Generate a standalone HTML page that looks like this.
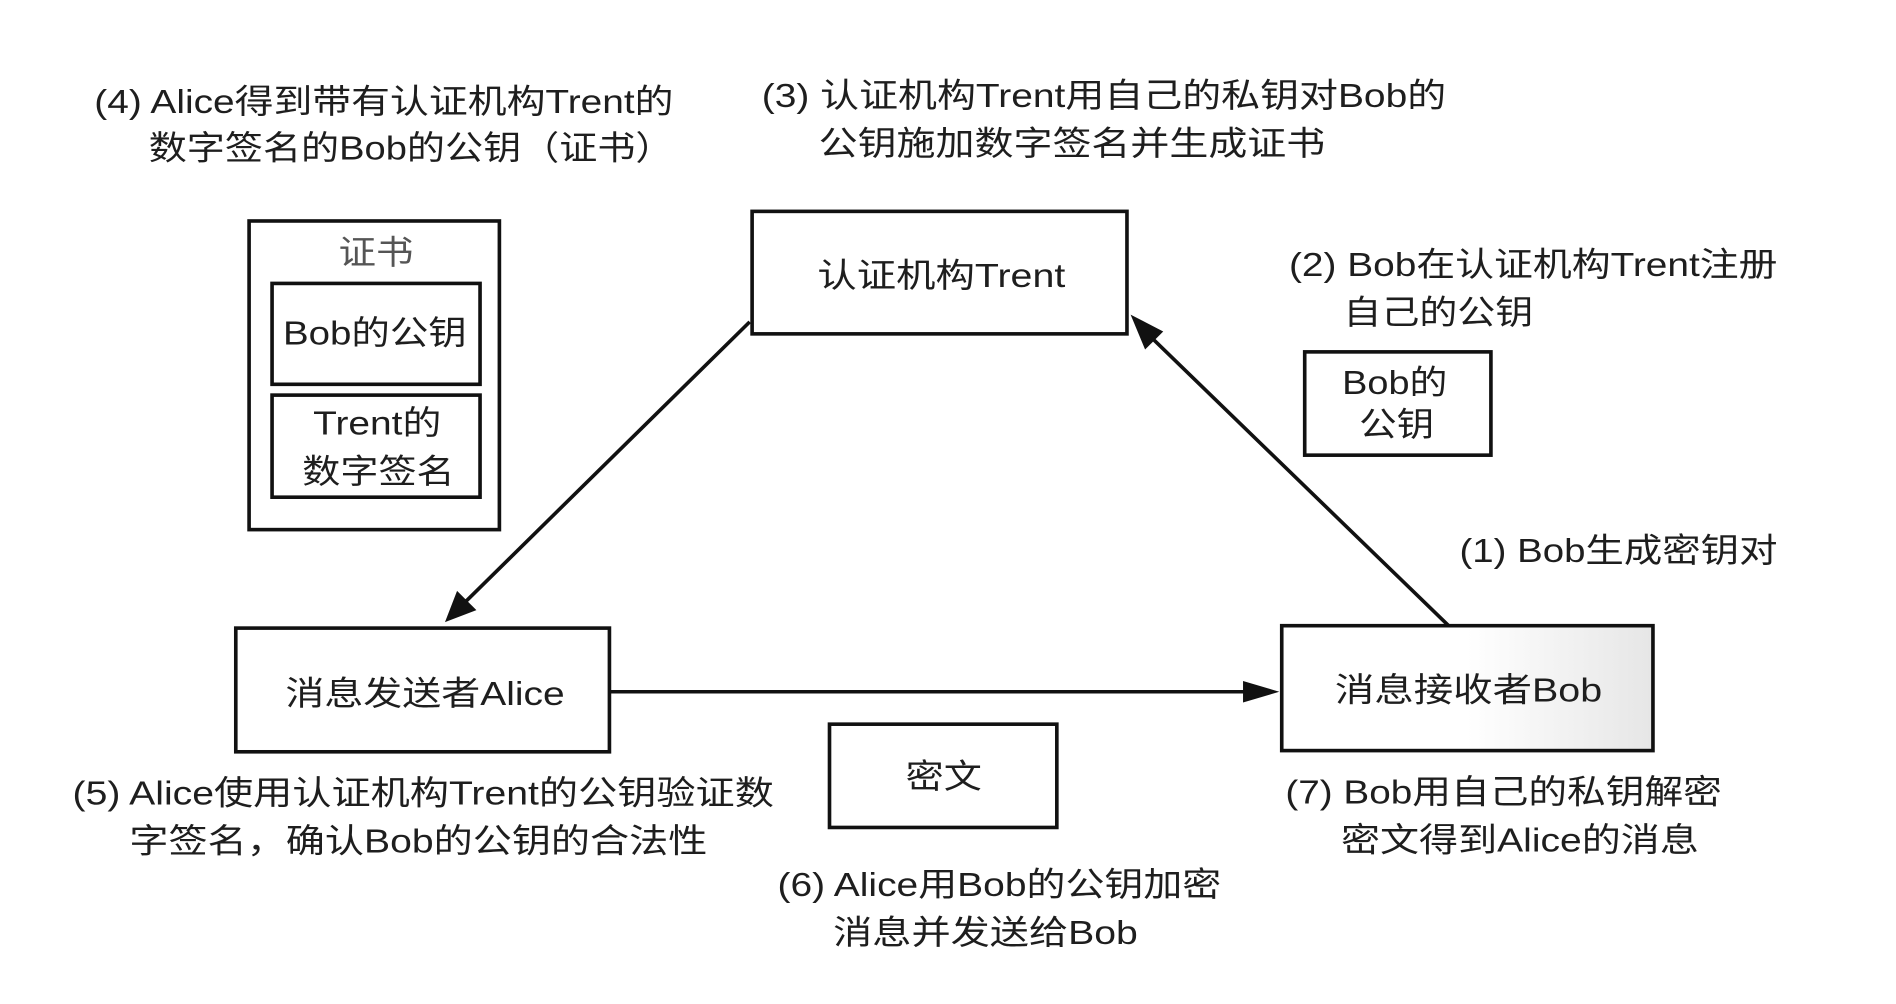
<!DOCTYPE html>
<html><head><meta charset="utf-8"><style>
html,body{margin:0;padding:0;background:#fff;width:1896px;height:1004px;overflow:hidden}
svg{display:block}
text{font-family:"Liberation Sans","Noto Sans CJK SC",sans-serif;fill:#1e1e1e;font-size:28px}
</style></head><body>
<svg width="1896" height="1004" viewBox="0 0 1568 836" preserveAspectRatio="none" xmlns="http://www.w3.org/2000/svg">
<defs>
<linearGradient id="g" x1="0" x2="1" y1="0" y2="0">
<stop offset="0.5" stop-color="#fff"/><stop offset="1" stop-color="#e6e6e6"/>
</linearGradient>
</defs>
<g fill="none" stroke="#111" stroke-width="3">
<rect x="206" y="184" width="207" height="257"/>
<rect x="225" y="236" width="172" height="84"/>
<rect x="225" y="329" width="172" height="85"/>
<rect x="622" y="176" width="310" height="102"/>
<rect x="1079" y="293" width="154" height="86"/>
<rect x="195" y="523" width="309" height="103"/>
<rect x="1060" y="521" width="307" height="104" fill="url(#g)"/>
<rect x="686" y="603" width="188" height="86"/>
<line x1="620" y1="268" x2="380" y2="506"/>
<line x1="1198" y1="521" x2="945" y2="274"/>
<line x1="505" y1="576" x2="1032" y2="576"/>
</g>
<g fill="#111">
<polygon points="368,518 378,492 394,508"/>
<polygon points="935,262 962,276 947,291"/>
<polygon points="1058,576 1028,567 1028,585"/>
</g>
<text x="78" y="94" textLength="479" lengthAdjust="spacingAndGlyphs">(4) Alice得到带有认证机构Trent的</text>
<text x="123" y="133" textLength="434" lengthAdjust="spacingAndGlyphs">数字签名的Bob的公钥（证书）</text>
<text x="630" y="89" textLength="566" lengthAdjust="spacingAndGlyphs">(3) 认证机构Trent用自己的私钥对Bob的</text>
<text x="677" y="129" textLength="419" lengthAdjust="spacingAndGlyphs">公钥施加数字签名并生成证书</text>
<text x="1066" y="230" textLength="404" lengthAdjust="spacingAndGlyphs">(2) Bob在认证机构Trent注册</text>
<text x="1111" y="270" textLength="157" lengthAdjust="spacingAndGlyphs">自己的公钥</text>
<text x="1207" y="468" textLength="263" lengthAdjust="spacingAndGlyphs">(1) Bob生成密钥对</text>
<text x="60" y="670" textLength="580" lengthAdjust="spacingAndGlyphs">(5) Alice使用认证机构Trent的公钥验证数</text>
<text x="107" y="710" textLength="478" lengthAdjust="spacingAndGlyphs">字签名，确认Bob的公钥的合法性</text>
<text x="643" y="746" textLength="367" lengthAdjust="spacingAndGlyphs">(6) Alice用Bob的公钥加密</text>
<text x="689" y="786" textLength="252" lengthAdjust="spacingAndGlyphs">消息并发送给Bob</text>
<text x="1063" y="669" textLength="361" lengthAdjust="spacingAndGlyphs">(7) Bob用自己的私钥解密</text>
<text x="1109" y="709" textLength="296" lengthAdjust="spacingAndGlyphs">密文得到Alice的消息</text>
<text x="676" y="239" textLength="205" lengthAdjust="spacingAndGlyphs">认证机构Trent</text>
<text x="236" y="587" textLength="231" lengthAdjust="spacingAndGlyphs">消息发送者Alice</text>
<text x="1104" y="584" textLength="221" lengthAdjust="spacingAndGlyphs">消息接收者Bob</text>
<text x="749" y="656" textLength="63" lengthAdjust="spacingAndGlyphs">密文</text>
<text x="280" y="220" textLength="62" lengthAdjust="spacingAndGlyphs" fill="#555" style="fill:#555">证书</text>
<text x="234" y="287" textLength="152" lengthAdjust="spacingAndGlyphs">Bob的公钥</text>
<text x="259" y="362" textLength="106" lengthAdjust="spacingAndGlyphs">Trent的</text>
<text x="250" y="402" textLength="126" lengthAdjust="spacingAndGlyphs">数字签名</text>
<text x="1110" y="328" textLength="87" lengthAdjust="spacingAndGlyphs">Bob的</text>
<text x="1124" y="363" textLength="62" lengthAdjust="spacingAndGlyphs">公钥</text>
</svg>
</body></html>
